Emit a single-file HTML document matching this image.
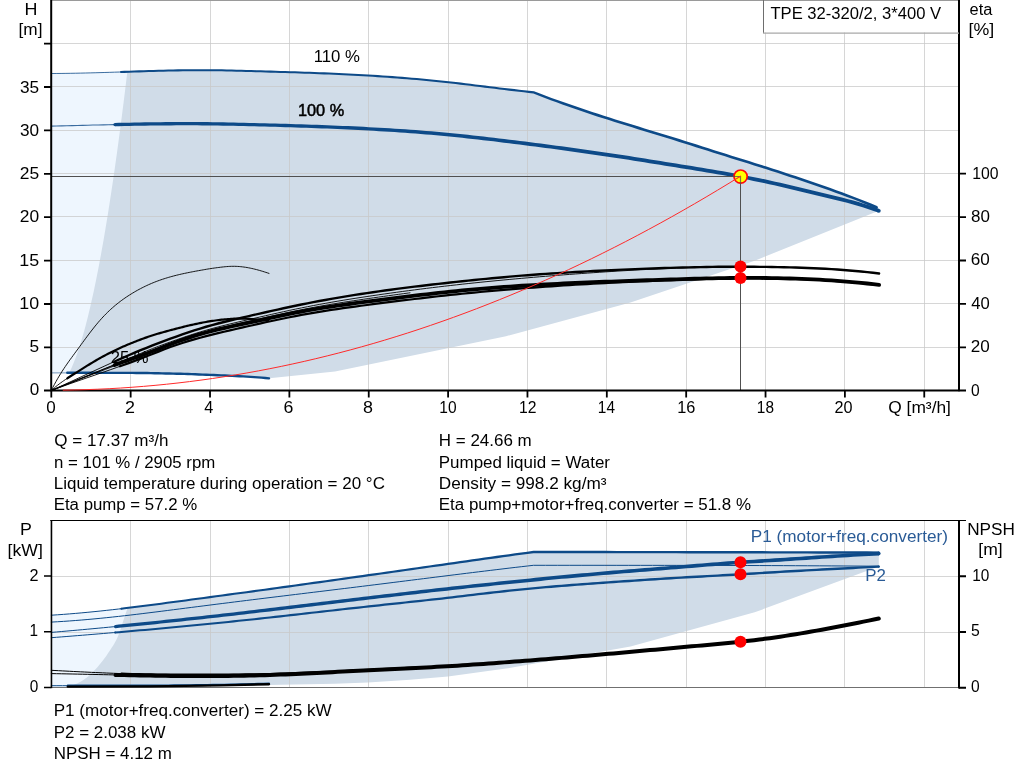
<!DOCTYPE html>
<html lang="en">
<head>
<meta charset="utf-8">
<title>TPE 32-320/2, 3*400 V</title>
<style>
html,body{margin:0;padding:0;background:#fff;}
body{width:1024px;height:781px;overflow:hidden;}
svg{display:block;}
.t{font-family:"Liberation Sans",sans-serif;font-size:16px;fill:#000;}
.m{text-anchor:middle;}
.e{text-anchor:end;}
</style>
</head>
<body>
<svg width="1024" height="781" viewBox="0 0 1024 781">
<rect width="1024" height="781" fill="#fff"/>
<g id="top-chart">
<path d="M51.3 73.5L51.3 73.5L56.17 73.48L61.05 73.44L65.92 73.38L70.79 73.31L75.66 73.22L80.54 73.12L85.41 73.01L90.28 72.89L95.15 72.76L100.03 72.62L104.9 72.48L109.77 72.33L114.65 72.17L119.52 72.02L124.39 71.86L129.26 71.7L134.14 71.54L139.01 71.39L143.88 71.23L148.75 71.09L153.63 70.95L158.5 70.81L160 70.77L160 373.32L51.3 372.8Z" fill="#eef6fe"/>
<path d="M127.34 71.76L129.26 71.7L134.14 71.54L139.01 71.39L143.88 71.23L148.75 71.09L153.63 70.95L158.5 70.81L163.37 70.69L168.25 70.58L173.12 70.47L177.99 70.38L182.86 70.31L187.74 70.25L192.61 70.2L197.48 70.18L202.35 70.17L207.23 70.18L212.1 70.22L216.97 70.27L221.85 70.35L226.72 70.44L231.59 70.55L236.46 70.66L241.34 70.79L246.21 70.92L251.08 71.06L255.95 71.2L260.83 71.34L265.7 71.48L270.57 71.62L275.45 71.76L280.32 71.9L285.19 72.05L290.06 72.2L294.94 72.35L299.81 72.51L304.68 72.67L309.55 72.84L314.43 73.01L319.3 73.19L324.17 73.38L329.05 73.57L333.92 73.78L338.79 73.99L343.66 74.22L348.54 74.45L353.41 74.69L358.28 74.95L363.15 75.22L368.03 75.5L372.9 75.8L377.77 76.11L382.65 76.43L387.52 76.76L392.39 77.12L397.26 77.48L402.14 77.86L407.01 78.26L411.88 78.67L416.75 79.09L421.63 79.53L426.5 79.99L431.37 80.46L436.25 80.95L441.12 81.46L445.99 81.98L450.86 82.52L455.74 83.07L460.61 83.64L465.48 84.22L470.35 84.81L475.23 85.41L480.1 86.01L484.97 86.61L489.85 87.21L494.72 87.81L499.59 88.41L504.46 89L509.34 89.59L514.21 90.16L519.08 90.72L523.95 91.26L528.83 91.79L533.7 92.3L539.51 94.59L545.32 96.83L551.13 99.02L556.94 101.17L562.75 103.27L568.56 105.33L574.37 107.35L580.18 109.34L585.99 111.29L591.8 113.22L597.61 115.12L603.42 116.99L609.23 118.84L615.04 120.67L620.85 122.49L626.66 124.29L632.47 126.09L638.28 127.87L644.09 129.65L649.9 131.43L655.71 133.2L661.52 134.98L667.33 136.77L673.14 138.56L678.95 140.37L684.76 142.19L690.57 144.02L696.38 145.87L702.19 147.72L708.01 149.58L713.82 151.42L719.63 153.26L725.44 155.09L731.25 156.91L737.06 158.72L742.87 160.54L748.68 162.36L754.49 164.18L760.3 166.01L766.11 167.85L771.92 169.71L777.73 171.58L783.54 173.48L789.35 175.39L795.16 177.32L800.97 179.28L806.78 181.25L812.59 183.24L818.4 185.24L824.21 187.27L830.02 189.32L835.83 191.39L841.64 193.51L847.45 195.66L853.26 197.87L859.07 200.13L864.88 202.45L870.69 204.84L876.5 207.3L878.8 210.8L754.7 260.7L630.5 302.5L506 336.2L335 371.5L269.3 378.2L269 378.4L265.31 378.02L261.62 377.66L257.93 377.34L254.24 377.08L250.55 376.84L246.86 376.62L243.17 376.41L239.48 376.22L235.79 376.03L232.1 375.85L228.41 375.68L224.72 375.52L221.03 375.36L217.34 375.21L213.65 375.05L209.96 374.9L206.27 374.74L202.58 374.59L198.89 374.44L195.2 374.29L191.51 374.16L187.82 374.03L184.13 373.91L180.44 373.81L176.75 373.72L173.06 373.63L169.37 373.54L165.68 373.45L161.99 373.36L158.31 373.28L154.62 373.21L150.93 373.14L147.24 373.07L143.55 373.02L139.86 372.97L136.17 372.94L132.48 372.91L128.79 372.9L125.1 372.89L121.41 372.88L117.72 372.87L114.03 372.86L110.34 372.85L106.65 372.84L102.96 372.83L99.27 372.83L95.58 372.82L91.89 372.82L88.2 372.81L84.51 372.81L80.82 372.81L77.13 372.8L73.44 372.8L69.75 372.8L69.22 372.8L71.64 367.7L73.8 362.6L75.77 357.49L77.59 352.39L79.3 347.29L80.9 342.19L82.43 337.08L83.88 331.98L85.27 326.88L86.61 321.78L87.89 316.67L89.14 311.57L90.34 306.47L91.51 301.37L92.64 296.26L93.75 291.16L94.83 286.06L95.88 280.96L96.9 275.86L97.91 270.75L98.89 265.65L99.85 260.55L100.8 255.45L101.72 250.34L102.63 245.24L103.53 240.14L104.4 235.04L105.27 229.93L106.12 224.83L106.96 219.73L107.78 214.63L108.6 209.52L109.4 204.42L110.19 199.32L110.97 194.22L111.74 189.12L112.5 184.01L113.25 178.91L114 173.81L114.73 168.71L115.45 163.6L116.17 158.5L116.88 153.4L117.58 148.3L118.28 143.19L118.96 138.09L119.65 132.99L120.32 127.89L120.99 122.78L121.65 117.68L122.3 112.58L122.95 107.48L123.59 102.38L124.23 97.27L124.86 92.17L125.49 87.07L126.11 81.97L126.73 76.86L127.34 71.76Z" fill="#d0dce8"/>
<path d="M130.5 0V390M210.5 0V390M289.5 0V390M368.5 0V390M448.5 0V390M527.5 0V390M606.5 0V390M686.5 0V390M765.5 0V390M844.5 0V390M924.5 0V390M52 347.5H959M52 303.5H959M52 260.5H959M52 216.5H959M52 173.5H959M52 130.5H959M52 86.5H959M52 43.5H959" stroke="#c8c8c8" stroke-opacity="0.75" stroke-width="1" fill="none"/>
<path d="M51 0.5H960" stroke="#9a9a9a" stroke-width="1" fill="none"/>
<text x="110.77" y="362.6" class="t" textLength="37.82" lengthAdjust="spacingAndGlyphs">25 %</text>
<path d="M51.3 372.8L54.99 372.8L58.68 372.8L62.37 372.8L66.06 372.8L67.3 372.8" fill="none" stroke="#0d4a88" stroke-width="1.2" stroke-linecap="round" stroke-linejoin="round" stroke-opacity="0.45"/>
<path d="M67.3 372.8L69.75 372.8L73.44 372.8L77.13 372.8L80.82 372.81L84.51 372.81L88.2 372.81L91.89 372.82L95.58 372.82L99.27 372.83L102.96 372.83L106.65 372.84L110.34 372.85L114.03 372.86L117.72 372.87L121.41 372.88L125.1 372.89L128.79 372.9L132.48 372.91L136.17 372.94L139.86 372.97L143.55 373.02L147.24 373.07L150.93 373.14L154.62 373.21L158.31 373.28L161.99 373.36L165.68 373.45L169.37 373.54L173.06 373.63L176.75 373.72L180.44 373.81L184.13 373.91L187.82 374.03L191.51 374.16L195.2 374.29L198.89 374.44L202.58 374.59L206.27 374.74L209.96 374.9L213.65 375.05L217.34 375.21L221.03 375.36L224.72 375.52L228.41 375.68L232.1 375.85L235.79 376.03L239.48 376.22L243.17 376.41L246.86 376.62L250.55 376.84L254.24 377.08L257.93 377.34L261.62 377.66L265.31 378.02L269 378.4" fill="none" stroke="#0d4a88" stroke-width="2.4" stroke-linecap="round" stroke-linejoin="round"/>
<path d="M51.3 73.5L56.17 73.48L61.05 73.44L65.92 73.38L70.79 73.31L75.66 73.22L80.54 73.12L85.41 73.01L90.28 72.89L95.15 72.76L100.03 72.62L104.9 72.48L109.77 72.33L114.65 72.17L119.52 72.02L121 71.97" fill="none" stroke="#0d4a88" stroke-width="1" stroke-linecap="round" stroke-linejoin="round" stroke-opacity="0.8"/>
<path d="M121.03 72.99L124.42 72.88L129.3 72.72L134.17 72.57L139.04 72.41L143.91 72.26L148.78 72.11L153.66 71.97L158.53 71.84L163.4 71.71L168.27 71.6L173.14 71.5L178.01 71.41L182.88 71.33L187.75 71.27L192.62 71.23L197.49 71.2L202.35 71.19L207.22 71.21L212.09 71.24L216.96 71.3L221.83 71.37L226.7 71.46L231.57 71.57L236.44 71.69L241.31 71.81L246.18 71.95L251.05 72.08L255.93 72.22L260.8 72.36L265.67 72.5L270.54 72.64L275.42 72.78L280.29 72.93L285.16 73.07L290.03 73.22L294.9 73.37L299.78 73.53L304.65 73.69L309.52 73.86L314.39 74.03L319.26 74.22L324.13 74.4L329 74.6L333.87 74.8L338.74 75.02L343.62 75.24L348.49 75.47L353.36 75.72L358.23 75.97L363.1 76.24L367.97 76.52L372.84 76.82L377.71 77.13L382.58 77.45L387.45 77.79L392.32 78.14L397.19 78.5L402.06 78.88L406.92 79.28L411.79 79.69L416.66 80.11L421.53 80.55L426.4 81.01L431.27 81.48L436.14 81.97L441.01 82.48L445.88 83L450.75 83.54L455.62 84.09L460.49 84.66L465.36 85.24L470.23 85.83L475.1 86.42L479.97 87.02L484.85 87.63L489.72 88.23L494.59 88.83L499.47 89.43L504.34 90.04L509.21 90.64L514.08 91.23L518.96 91.81L523.83 92.37L528.71 92.92L533.41 93.41L539.08 95.68L544.89 97.95L550.71 100.16L556.52 102.33L562.33 104.45L568.14 106.54L573.95 108.58L579.76 110.59L585.57 112.55L591.39 114.48L597.2 116.38L603.02 118.25L608.83 120.1L614.65 121.94L620.46 123.76L626.27 125.56L632.08 127.35L637.89 129.14L643.71 130.92L649.52 132.69L655.33 134.47L661.14 136.25L666.94 138.03L672.75 139.83L678.56 141.63L684.37 143.45L690.17 145.28L695.98 147.13L701.79 148.98L707.6 150.84L713.41 152.69L719.23 154.53L725.04 156.35L730.85 158.17L736.66 159.99L742.47 161.8L748.28 163.62L754.09 165.44L759.9 167.27L765.7 169.11L771.51 170.97L777.32 172.84L783.12 174.74L788.93 176.65L794.74 178.58L800.54 180.53L806.35 182.5L812.16 184.49L817.96 186.5L823.77 188.52L829.58 190.57L835.38 192.64L841.18 194.75L846.98 196.9L852.78 199.1L858.58 201.36L864.38 203.67L870.18 206.06L875.98 208.52L877.02 206.08L871.2 203.61L865.38 201.22L859.56 198.89L853.73 196.63L847.91 194.42L842.1 192.26L836.28 190.15L830.46 188.07L824.65 186.02L818.83 183.99L813.02 181.98L807.21 179.99L801.39 178.02L795.58 176.07L789.76 174.13L783.95 172.22L778.14 170.32L772.32 168.45L766.51 166.59L760.7 164.74L754.88 162.91L749.07 161.09L743.26 159.27L737.45 157.46L731.64 155.64L725.83 153.82L720.02 152L714.22 150.16L708.41 148.31L702.6 146.46L696.79 144.6L690.97 142.76L685.16 140.92L679.35 139.1L673.54 137.3L667.72 135.5L661.91 133.72L656.1 131.94L650.29 130.16L644.48 128.38L638.67 126.6L632.86 124.82L627.05 123.03L621.25 121.23L615.44 119.41L609.63 117.58L603.83 115.73L598.02 113.86L592.22 111.96L586.41 110.04L580.61 108.08L574.8 106.12L568.99 104.12L563.18 102.08L557.37 100L551.56 97.88L545.75 95.71L539.94 93.5L533.99 91.19L528.95 90.66L524.08 90.16L519.21 89.63L514.33 89.09L509.46 88.53L504.59 87.97L499.72 87.39L494.84 86.8L489.97 86.19L485.1 85.59L480.23 84.99L475.35 84.39L470.48 83.79L465.6 83.2L460.73 82.62L455.85 82.06L450.98 81.5L446.1 80.96L441.23 80.44L436.35 79.93L431.47 79.44L426.6 78.97L421.72 78.51L416.85 78.07L411.97 77.64L407.09 77.23L402.22 76.84L397.34 76.46L392.47 76.09L387.59 75.74L382.71 75.41L377.84 75.08L372.96 74.77L368.09 74.48L363.21 74.2L358.34 73.93L353.46 73.67L348.59 73.43L343.71 73.19L338.84 72.97L333.96 72.75L329.09 72.55L324.21 72.35L319.34 72.17L314.46 71.99L309.59 71.81L304.72 71.64L299.84 71.48L294.97 71.33L290.1 71.17L285.22 71.02L280.35 70.88L275.48 70.73L270.6 70.59L265.73 70.45L260.86 70.31L255.98 70.17L251.11 70.03L246.24 69.9L241.36 69.76L236.49 69.64L231.61 69.52L226.74 69.42L221.86 69.32L216.99 69.25L212.11 69.19L207.23 69.16L202.36 69.14L197.48 69.15L192.6 69.18L187.73 69.22L182.85 69.28L177.97 69.36L173.1 69.45L168.22 69.55L163.35 69.67L158.47 69.79L153.6 69.92L148.72 70.06L143.85 70.21L138.98 70.36L134.1 70.52L129.23 70.67L124.36 70.83L120.97 70.94Z" fill="#0d4a88"/><circle cx="121" cy="71.97" r="1.02" fill="#0d4a88"/><circle cx="876.5" cy="207.3" r="1.32" fill="#0d4a88"/>
<path d="M51.3 126.1L56.5 125.97L61.71 125.84L66.91 125.72L72.12 125.59L77.32 125.46L82.53 125.33L87.73 125.2L92.94 125.07L98.14 124.95L103.34 124.83L108.55 124.71L113.75 124.59L114.5 124.58" fill="none" stroke="#0d4a88" stroke-width="1.1" stroke-linecap="round" stroke-linejoin="round" stroke-opacity="0.8"/>
<path d="M115.03 126.22L118.99 126.13L124.19 126.03L129.4 125.93L134.6 125.83L139.8 125.75L145 125.67L150.21 125.59L155.41 125.53L160.61 125.47L165.81 125.42L171.01 125.38L176.21 125.36L181.41 125.34L186.61 125.33L191.82 125.33L197.02 125.35L202.22 125.38L207.42 125.42L212.62 125.48L217.82 125.55L223.02 125.63L228.22 125.72L233.42 125.83L238.62 125.94L243.82 126.05L249.03 126.18L254.23 126.31L259.43 126.44L264.64 126.57L269.84 126.71L275.04 126.85L280.25 127L285.45 127.15L290.65 127.31L295.85 127.47L301.06 127.64L306.26 127.82L311.46 128L316.66 128.19L321.87 128.39L327.07 128.6L332.27 128.81L337.47 129.03L342.67 129.26L347.87 129.5L353.07 129.75L358.28 130L363.48 130.27L368.68 130.55L373.88 130.83L379.08 131.13L384.28 131.44L389.48 131.76L394.68 132.1L399.88 132.45L405.08 132.81L410.28 133.18L415.48 133.57L420.68 133.98L425.87 134.4L431.07 134.84L436.27 135.29L441.47 135.76L446.67 136.25L451.86 136.76L457.06 137.29L462.26 137.83L467.46 138.39L472.66 138.96L477.86 139.54L483.06 140.14L488.26 140.75L493.46 141.37L498.66 142L503.86 142.63L509.06 143.28L514.27 143.92L519.47 144.58L524.67 145.24L529.87 145.9L535.07 146.57L540.28 147.25L545.48 147.93L550.68 148.62L555.88 149.32L561.08 150.02L566.28 150.73L571.48 151.45L576.68 152.18L581.89 152.91L587.09 153.65L592.29 154.4L597.49 155.16L602.69 155.93L607.89 156.7L613.09 157.48L618.29 158.27L623.5 159.06L628.7 159.87L633.9 160.68L639.1 161.5L644.3 162.32L649.51 163.14L654.71 163.98L659.91 164.81L665.12 165.65L670.32 166.49L675.52 167.33L680.73 168.17L685.93 169.02L691.14 169.86L696.34 170.71L701.54 171.56L706.74 172.42L711.94 173.29L717.14 174.17L722.34 175.06L727.54 175.98L732.74 176.91L737.93 177.87L743.13 178.85L748.32 179.86L753.52 180.9L758.71 181.97L763.91 183.06L769.1 184.19L774.3 185.34L779.49 186.52L784.69 187.72L789.89 188.94L795.09 190.18L800.29 191.42L805.49 192.67L810.7 193.92L815.9 195.17L821.11 196.42L826.31 197.66L831.51 198.9L836.71 200.17L841.9 201.47L847.09 202.81L852.27 204.22L857.45 205.69L862.62 207.26L867.79 208.91L872.96 210.68L878.15 212.58L879.45 209.02L874.23 207.1L868.99 205.31L863.75 203.63L858.52 202.05L853.29 200.56L848.06 199.14L842.84 197.79L837.62 196.48L832.41 195.21L827.2 193.96L821.99 192.72L816.79 191.48L811.59 190.23L806.38 188.98L801.18 187.73L795.97 186.48L790.76 185.24L785.55 184.02L780.34 182.82L775.13 181.63L769.91 180.47L764.7 179.34L759.49 178.24L754.27 177.18L749.06 176.13L743.84 175.12L738.63 174.13L733.42 173.17L728.21 172.24L722.99 171.32L717.78 170.42L712.57 169.54L707.37 168.67L702.16 167.81L696.95 166.96L691.75 166.11L686.54 165.27L681.34 164.42L676.13 163.58L670.93 162.74L665.72 161.9L660.52 161.06L655.31 160.22L650.11 159.39L644.9 158.56L639.69 157.74L634.49 156.92L629.28 156.11L624.07 155.31L618.87 154.51L613.66 153.72L608.45 152.94L603.24 152.17L598.04 151.41L592.83 150.65L587.62 149.91L582.41 149.18L577.2 148.45L572 147.73L566.79 147.02L561.58 146.32L556.37 145.63L551.17 144.94L545.96 144.26L540.75 143.58L535.55 142.91L530.34 142.25L525.13 141.59L519.92 140.94L514.72 140.29L509.51 139.65L504.3 139.02L499.1 138.39L493.89 137.77L488.68 137.16L483.47 136.56L478.26 135.97L473.05 135.39L467.84 134.83L462.63 134.28L457.42 133.74L452.21 133.22L447 132.72L441.79 132.24L436.58 131.78L431.37 131.33L426.16 130.9L420.95 130.49L415.74 130.09L410.53 129.71L405.32 129.34L400.11 128.99L394.9 128.65L389.69 128.32L384.48 128.01L379.28 127.71L374.07 127.42L368.86 127.14L363.65 126.87L358.44 126.61L353.24 126.36L348.03 126.12L342.82 125.89L337.61 125.67L332.41 125.46L327.2 125.25L321.99 125.06L316.79 124.87L311.58 124.68L306.37 124.51L301.17 124.34L295.96 124.17L290.75 124.01L285.55 123.85L280.34 123.7L275.14 123.56L269.93 123.41L264.72 123.27L259.52 123.14L254.31 123.01L249.11 122.88L243.9 122.76L238.69 122.64L233.49 122.53L228.28 122.42L223.07 122.33L217.86 122.25L212.66 122.18L207.45 122.12L202.24 122.08L197.03 122.05L191.82 122.03L186.61 122.03L181.41 122.04L176.2 122.06L170.99 122.08L165.78 122.12L160.58 122.17L155.37 122.23L150.16 122.29L144.95 122.37L139.75 122.45L134.54 122.54L129.34 122.63L124.13 122.73L118.92 122.83L114.97 122.92Z" fill="#0d4a88"/><circle cx="115" cy="124.57" r="1.65" fill="#0d4a88"/><circle cx="878.8" cy="210.8" r="1.9" fill="#0d4a88"/>
<path d="M52 176.5H740.5V390" stroke="#505050" stroke-width="1" fill="none"/>
<path d="M51.3 390.5L52.87 387.38L54.43 384.4L56 381.53L57.56 378.78L59.13 376.12L60.7 373.56L62.26 371.09L63.83 368.69L65.4 366.36L66.96 364.08L68.53 361.85L70.09 359.66L71.66 357.5L73.23 355.36L74.79 353.23L76.36 351.1L77.93 348.97L79.49 346.83L81.06 344.68L82.62 342.55L84.19 340.41L85.76 338.29L87.32 336.19L88.89 334.1L90.45 332.05L92.02 330.02L93.59 328.02L95.15 326.06L96.72 324.15L98.29 322.28L99.85 320.47L101.42 318.71L102.98 317.01L104.55 315.36L106.12 313.76L107.68 312.21L109.25 310.71L110.82 309.26L112.38 307.85L113.95 306.49L115.51 305.17L117.08 303.9L118.65 302.66L120.21 301.46L121.78 300.29L123.34 299.16L124.91 298.06L126.48 296.99L128.04 295.96L129.61 294.95L131.18 293.96L132.74 293.01L134.31 292.08L135.87 291.17L137.44 290.29L139.01 289.43L140.57 288.6L142.14 287.79L143.71 287L145.27 286.24L146.84 285.5L148.4 284.78L149.97 284.09L151.54 283.41L153.1 282.76L154.67 282.13L156.23 281.52L157.8 280.93L159.37 280.36L160.93 279.81L162.5 279.28L164.07 278.77L165.63 278.27L167.2 277.79L168.76 277.32L170.33 276.87L171.9 276.44L173.46 276.02L175.03 275.61L176.59 275.22L178.16 274.83L179.73 274.46L181.29 274.1L182.86 273.75L184.43 273.41L185.99 273.08L187.56 272.76L189.12 272.44L190.69 272.13L192.26 271.83L193.82 271.53L195.39 271.24L196.96 270.95L198.52 270.67L200.09 270.38L201.65 270.11L203.22 269.83L204.79 269.56L206.35 269.29L207.92 269.03L209.48 268.78L211.05 268.54L212.62 268.3L214.18 268.07L215.75 267.85L217.32 267.64L218.88 267.44L220.45 267.25L222.01 267.06L223.58 266.89L225.15 266.73L226.71 266.59L228.28 266.47L229.85 266.38L231.41 266.32L232.98 266.3L234.54 266.31L236.11 266.35L237.68 266.43L239.24 266.53L240.81 266.68L242.37 266.85L243.94 267.05L245.51 267.28L247.07 267.53L248.64 267.82L250.21 268.13L251.77 268.46L253.34 268.81L254.9 269.19L256.47 269.59L258.04 270.01L259.6 270.45L261.17 270.9L262.74 271.37L264.3 271.86L265.87 272.36L267.43 272.87L269 273.4" fill="none" stroke="#000" stroke-width="0.9" stroke-linecap="round" stroke-linejoin="round"/>
<path d="M51.3 390.5L52.86 389.11L54.43 387.77L55.99 386.48L57.55 385.24L59.11 384.04L60.68 382.88L62.24 381.75L63.8 380.66L65.36 379.59L66.93 378.55L68.3 377.65" fill="none" stroke="#000" stroke-width="0.9" stroke-linecap="round" stroke-linejoin="round"/>
<path d="M67.3 378.3L68.49 377.52L70.05 376.51L71.61 375.52L73.18 374.53L74.74 373.54L76.3 372.56L77.86 371.57L79.43 370.58L80.99 369.6L82.55 368.62L84.11 367.63L85.68 366.66L87.24 365.69L88.8 364.72L90.36 363.76L91.93 362.82L93.49 361.88L95.05 360.95L96.62 360.04L98.18 359.13L99.74 358.25L101.3 357.37L102.87 356.52L104.43 355.68L105.99 354.85L107.55 354.04L109.12 353.24L110.68 352.45L112.24 351.68L113.8 350.92L115.37 350.17L116.93 349.44L118.49 348.72L120.05 348L121.62 347.3L123.18 346.61L124.74 345.93L126.3 345.26L127.87 344.6L129.43 343.94L130.99 343.3L132.55 342.66L134.12 342.03L135.68 341.41L137.24 340.8L138.81 340.2L140.37 339.61L141.93 339.03L143.49 338.46L145.06 337.9L146.62 337.35L148.18 336.81L149.74 336.29L151.31 335.77L152.87 335.27L154.43 334.77L155.99 334.29L157.56 333.82L159.12 333.35L160.68 332.9L162.24 332.45L163.81 332.01L165.37 331.57L166.93 331.14L168.49 330.72L170.06 330.3L171.62 329.89L173.18 329.47L174.74 329.07L176.31 328.66L177.87 328.26L179.43 327.86L180.99 327.46L182.56 327.07L184.12 326.68L185.68 326.3L187.25 325.92L188.81 325.55L190.37 325.19L191.93 324.83L193.5 324.48L195.06 324.13L196.62 323.8L198.18 323.47L199.75 323.15L201.31 322.84L202.87 322.54L204.43 322.25L206 321.97L207.56 321.7L209.12 321.44L210.68 321.19L212.25 320.95L213.81 320.72L215.37 320.49L216.93 320.28L218.5 320.08L220.06 319.89L221.62 319.71L223.18 319.54L224.75 319.39L226.31 319.24L227.87 319.11L229.44 318.99L231 318.89L232.56 318.8L234.12 318.72L235.69 318.66L237.25 318.62L238.81 318.6L240.37 318.59L241.94 318.6L243.5 318.63L245.06 318.67L246.62 318.73L248.19 318.8L249.75 318.89L251.31 319L252.87 319.12L254.44 319.25L256 319.39L257.56 319.55L259.12 319.73L260.69 319.91L262.25 320.11L263.81 320.31L265.37 320.53L266.94 320.76L268.5 321" fill="none" stroke="#000" stroke-width="2.2" stroke-linecap="round" stroke-linejoin="round"/>
<path d="M51.3 390.5L57.26 387.96L63.21 385.46L69.17 383.01L75.12 380.58L81.08 378.18L87.03 375.78L92.99 373.39L98.94 370.99L104.9 368.57L110.85 366.13L116.81 363.65L122.76 361.12L128.72 358.56L134.68 356L140.63 353.46L146.59 350.98L152.54 348.59L158.5 346.3L164.45 344.08L170.41 341.93L176.36 339.82L182.32 337.75L188.27 335.74L194.23 333.8L200.18 331.94L206.14 330.19L212.1 328.53L218.05 326.95L224.01 325.44L229.96 323.98L235.92 322.56L241.87 321.17L247.83 319.8L253.78 318.43L259.74 317.06L265.69 315.7L271.65 314.34L277.61 313.01L283.56 311.69L289.52 310.4L295.47 309.14L301.43 307.91L307.38 306.72L313.34 305.56L319.29 304.44L325.25 303.36L331.2 302.3L337.16 301.27L343.11 300.28L349.07 299.3L355.03 298.35L360.98 297.43L366.94 296.52L372.89 295.64L378.85 294.77L384.8 293.91L390.76 293.08L396.71 292.25L402.67 291.45L408.62 290.66L414.58 289.88L420.53 289.12L426.49 288.37L432.45 287.64L438.4 286.92L444.36 286.22L450.31 285.53L456.27 284.86L462.22 284.2L468.18 283.56L474.13 282.93L480.09 282.31L486.04 281.7L492 281.11L497.95 280.53L503.91 279.96L509.87 279.4L515.82 278.86L521.78 278.32L527.73 277.8L533.69 277.28L539.64 276.78L545.6 276.29L551.55 275.8L557.51 275.33L563.46 274.87L569.42 274.41L575.37 273.97L581.33 273.54L587.29 273.11L593.24 272.7L599.2 272.3L605.15 271.9L611.11 271.52L617.06 271.14L623.02 270.78L628.97 270.43L634.93 270.09L640.88 269.76L646.84 269.45L652.79 269.15L658.75 268.87L664.71 268.61L670.66 268.36L676.62 268.13L682.57 267.92L688.53 267.73L694.48 267.56L700.44 267.41L706.39 267.28L712.35 267.17L718.3 267.08L724.26 267.01L730.22 266.95L736.17 266.92L742.13 266.9L748.08 266.9L754.04 266.91L759.99 266.95L765.95 267L771.9 267.08L777.86 267.17L783.81 267.29L789.77 267.44L795.72 267.61L801.68 267.8L807.64 268.03L813.59 268.29L819.55 268.58L825.5 268.9L831.46 269.26L837.41 269.65L843.37 270.09L849.32 270.56L855.28 271.08L861.23 271.64L867.19 272.25L873.14 272.9L879.1 273.6" fill="none" stroke="#000" stroke-width="0.9" stroke-linecap="round" stroke-linejoin="round"/>
<path d="M51.3 390.5L56.26 388.46L61.22 386.45L66.17 384.48L71.13 382.54L76.09 380.62L81.05 378.71L86.01 376.82L90.97 374.92L95.92 373.03L100.88 371.13L105.84 369.21L110.8 367.27L115.76 365.31L120.72 363.31L125.67 361.28L130.63 359.22L135.59 357.16L140.55 355.09L145.51 353.04L150.47 351.01L155.42 349.02L160.38 347.07L165.34 345.17L170.3 343.31L175.26 341.51L180.22 339.76L185.17 338.07L190.13 336.44L195.09 334.88L200.05 333.39L205.01 331.96L209.96 330.6L214.92 329.29L219.88 328.04L224.84 326.82L229.8 325.63L234.76 324.48L239.71 323.34L244.67 322.21L249.63 321.08L254.59 319.96L259.55 318.83L264.51 317.7L269.46 316.58L274.42 315.46L279.38 314.36L284.34 313.28L289.3 312.21L294.26 311.17L299.21 310.16L304.17 309.17L309.13 308.22L314.09 307.29L319.05 306.39L324.01 305.52L328.96 304.67L333.92 303.84L338.88 303.03L343.84 302.24L348.8 301.47L353.75 300.71L358.71 299.97L363.67 299.24L368.63 298.52L373.59 297.81L378.55 297.1L383.5 296.41L388.46 295.72L393.42 295.04L398.38 294.36L403.34 293.69L408.3 293.03L410 292.8" fill="none" stroke="#000" stroke-width="0.9" stroke-linecap="round" stroke-linejoin="round"/>
<path d="M51.3 390.5L57.26 388.3L63.21 386.14L69.17 384.02L75.12 381.93L81.08 379.86L87.03 377.8L92.99 375.75L98.94 373.7L104.9 371.63L110.85 369.55L116.81 367.44L121 365.94" fill="none" stroke="#000" stroke-width="0.9" stroke-linecap="round" stroke-linejoin="round"/>
<path d="M120 366.3L122.76 365.3L128.72 363.12L134.68 360.9L140.63 358.64L146.59 356.34L152.54 354L158.5 351.64L164.45 349.31L170.41 347.05L176.36 344.93L182.32 342.95L188.27 341.12L194.23 339.39L200.18 337.75L206.14 336.17L212.1 334.66L218.05 333.18L224.01 331.75L229.96 330.35L235.92 328.98L241.87 327.63L247.83 326.29L253.78 324.95L259.74 323.62L265.69 322.3L271.65 321L277.61 319.71L283.56 318.46L289.52 317.24L295.47 316.07L301.43 314.93L307.38 313.85L313.34 312.81L319.29 311.82L325.25 310.86L331.2 309.94L337.16 309.05L343.11 308.19L349.07 307.36L355.03 306.55L360.98 305.75L366.94 304.97L372.89 304.21L378.85 303.45L384.8 302.69L390.76 301.94L396.71 301.2L402.67 300.46L408.62 299.73L414.58 299.01L420.53 298.3L426.49 297.61L432.45 296.92L438.4 296.25L444.36 295.59L450.31 294.95L456.27 294.33L462.22 293.72L468.18 293.13L474.13 292.55L480.09 291.99L486.04 291.45L492 290.91L497.95 290.39L503.91 289.89L509.87 289.4L515.82 288.92L521.78 288.45L527.73 288L533.69 287.55L539.64 287.12L545.6 286.7L551.55 286.29L557.51 285.9L563.46 285.51L569.42 285.13L575.37 284.76L581.33 284.41L587.29 284.06L593.24 283.73L599.2 283.4L605.15 283.08L611.11 282.77L617.06 282.47L623.02 282.18L628.97 281.9L634.93 281.63L640.88 281.36L646.84 281.11L652.79 280.86L658.75 280.62L664.71 280.39L670.66 280.16L676.62 279.94L682.57 279.73L688.53 279.53L694.48 279.33L700.44 279.14L706.39 278.97L712.35 278.81L718.3 278.66L724.26 278.54L730.22 278.43L736.17 278.35L742.13 278.29L748.08 278.25L754.04 278.24L759.99 278.26L765.95 278.3L771.9 278.37L777.86 278.46L783.81 278.58L789.77 278.73L795.72 278.91L801.68 279.11L807.64 279.35L813.59 279.62L819.55 279.92L825.5 280.26L831.46 280.63L837.41 281.04L843.37 281.49L849.32 281.97L855.28 282.49L861.23 283.06L867.19 283.66L873.14 284.31L879.1 285" fill="none" stroke="#000" stroke-width="2.2" stroke-linecap="round" stroke-linejoin="round"/>
<path d="M51.3 390.5L57.26 387.82L63.21 385.12L69.17 382.39L75.12 379.65L81.08 376.89L87.03 374.13L92.99 371.38L98.94 368.63L104.9 365.9L110.85 363.19L115.6 361.05" fill="none" stroke="#000" stroke-width="0.9" stroke-linecap="round" stroke-linejoin="round"/>
<path d="M114.6 361.5L116.81 360.51L122.76 357.87L128.72 355.26L134.68 352.71L140.63 350.21L146.59 347.77L152.54 345.4L158.5 343.09L164.45 340.85L170.41 338.66L176.36 336.51L182.32 334.42L188.27 332.38L194.23 330.42L200.18 328.54L206.14 326.77L212.1 325.09L218.05 323.5L224.01 321.97L229.96 320.5L235.92 319.07L241.87 317.67L247.83 316.3L253.78 314.93L259.74 313.57L265.69 312.22L271.65 310.88L277.61 309.56L283.56 308.26L289.52 306.98L295.47 305.73L301.43 304.51L307.38 303.32L313.34 302.17L319.29 301.05L325.25 299.95L331.2 298.89L337.16 297.86L343.11 296.85L349.07 295.87L355.03 294.92L360.98 294L366.94 293.09L372.89 292.22L378.85 291.36L384.8 290.53L390.76 289.72L396.71 288.93L402.67 288.16L408.62 287.4L414.58 286.67L420.53 285.95L426.49 285.24L432.45 284.55L438.4 283.87L444.36 283.2L450.31 282.55L456.27 281.9L462.22 281.27L468.18 280.64L474.13 280.03L480.09 279.43L486.04 278.85L492 278.28L497.95 277.73L503.91 277.19L509.87 276.66L515.82 276.16L521.78 275.67L527.73 275.2L533.69 274.75L539.64 274.31L545.6 273.89L551.55 273.49L557.51 273.11L563.46 272.74L569.42 272.38L575.37 272.03L581.33 271.7L587.29 271.38L593.24 271.07L599.2 270.77L605.15 270.47L611.11 270.19L617.06 269.91L623.02 269.64L628.97 269.38L634.93 269.13L640.88 268.89L646.84 268.66L652.79 268.44L658.75 268.23L664.71 268.03L670.66 267.84L676.62 267.66L682.57 267.5L688.53 267.35L694.48 267.21L700.44 267.09L706.39 266.98L712.35 266.89L718.3 266.81L724.26 266.76L730.22 266.72L736.17 266.7L742.13 266.7L748.08 266.73L754.04 266.77L759.99 266.83L765.95 266.9L771.9 266.99L777.86 267.1L783.81 267.23L789.77 267.38L795.72 267.55L801.68 267.75L807.64 267.97L813.59 268.22L819.55 268.5L825.5 268.82L831.46 269.17L837.41 269.56L843.37 269.99L849.32 270.46L855.28 270.97L861.23 271.53L867.19 272.14L873.14 272.79L879.1 273.5" fill="none" stroke="#000" stroke-width="2.4" stroke-linecap="round" stroke-linejoin="round"/>
<path d="M51.3 390.5L57.26 388.26L63.21 385.93L69.17 383.53L75.12 381.08L81.08 378.6L87.03 376.11L92.99 373.63L98.94 371.18L104.9 368.77L110.85 366.43L115.6 364.63" fill="none" stroke="#000" stroke-width="0.9" stroke-linecap="round" stroke-linejoin="round"/>
<path d="M114.6 365.01L116.81 364.17L122.76 362L128.72 359.87L134.68 357.76L140.63 355.64L146.59 353.48L152.54 351.23L158.5 348.91L164.45 346.56L170.41 344.24L176.36 341.99L182.32 339.86L188.27 337.83L194.23 335.93L200.18 334.15L206.14 332.48L212.1 330.93L218.05 329.46L224.01 328.07L229.96 326.73L235.92 325.43L241.87 324.15L247.83 322.87L253.78 321.58L259.74 320.28L265.69 318.97L271.65 317.66L277.61 316.38L283.56 315.11L289.52 313.87L295.47 312.68L301.43 311.53L307.38 310.44L313.34 309.4L319.29 308.41L325.25 307.46L331.2 306.55L337.16 305.67L343.11 304.82L349.07 304L355.03 303.21L360.98 302.42L366.94 301.66L372.89 300.9L378.85 300.15L384.8 299.39L390.76 298.64L396.71 297.9L402.67 297.16L408.62 296.42L414.58 295.7L420.53 294.98L426.49 294.28L432.45 293.6L438.4 292.93L444.36 292.29L450.31 291.66L456.27 291.06L462.22 290.47L468.18 289.91L474.13 289.37L480.09 288.86L486.04 288.36L492 287.88L497.95 287.42L503.91 286.98L509.87 286.56L515.82 286.15L521.78 285.77L527.73 285.4L533.69 285.05L539.64 284.71L545.6 284.39L551.55 284.08L557.51 283.78L563.46 283.5L569.42 283.23L575.37 282.96L581.33 282.71L587.29 282.46L593.24 282.22L599.2 281.99L605.15 281.76L611.11 281.53L617.06 281.31L623.02 281.09L628.97 280.88L634.93 280.67L640.88 280.46L646.84 280.26L652.79 280.06L658.75 279.86L664.71 279.67L670.66 279.48L676.62 279.29L682.57 279.11L688.53 278.94L694.48 278.77L700.44 278.6L706.39 278.45L712.35 278.31L718.3 278.18L724.26 278.08L730.22 277.99L736.17 277.93L742.13 277.89L748.08 277.88L754.04 277.9L759.99 277.94L765.95 278L771.9 278.09L777.86 278.19L783.81 278.33L789.77 278.48L795.72 278.67L801.68 278.88L807.64 279.12L813.59 279.39L819.55 279.7L825.5 280.04L831.46 280.42L837.41 280.83L843.37 281.29L849.32 281.78L855.28 282.31L861.23 282.89L867.19 283.51L873.14 284.18L879.1 284.9" fill="none" stroke="#000" stroke-width="3.8" stroke-linecap="round" stroke-linejoin="round"/>
<circle cx="740.5" cy="266.5" r="6" fill="#f00"/>
<circle cx="740.5" cy="278.1" r="6" fill="#f00"/>
<circle cx="740.6" cy="176.6" r="6.6" fill="#ffff00" stroke="#ff0a0a" stroke-width="1.7"/>
<path d="M733 176.5H740.5V184" stroke="#505050" stroke-width="1.2" fill="none" stroke-opacity="0.75"/>
<path d="M733.5 180.2L740.5 176.6" stroke="#ff3030" stroke-width="1" fill="none" stroke-opacity="0.7"/>
<path d="M51.2 0V391.3" stroke="#000" stroke-width="2" fill="none"/>
<path d="M959 0V391.3" stroke="#000" stroke-width="2" fill="none"/>
<path d="M44 390.5H966" stroke="#000" stroke-width="1.8" fill="none"/>
<path d="M44 347.4H51M44 304H51M44 260.6H51M44 217.2H51M44 173.8H51M44 130.4H51M44 87H51M44 43.6H51M959 347.3H966M959 303.9H966M959 260.5H966M959 217.1H966M959 173.7H966M51.3 390V397.5M130.66 390V397.5M210.02 390V397.5M289.38 390V397.5M368.74 390V397.5M448.1 390V397.5M527.46 390V397.5M606.82 390V397.5M686.18 390V397.5M765.54 390V397.5M844.9 390V397.5M924.26 390V397.5" stroke="#000" stroke-width="1.8" fill="none"/>
<path d="M63.2 390.14L74.68 389.95L86.16 389.65L97.64 389.23L109.13 388.69L120.61 388.04L132.09 387.26L143.57 386.36L155.05 385.35L166.53 384.22L178.01 382.97L189.49 381.6L200.97 380.11L212.45 378.5L223.93 376.77L235.41 374.93L246.89 372.96L258.37 370.88L269.85 368.68L281.33 366.36L292.81 363.92L304.29 361.36L315.77 358.68L327.25 355.89L338.73 352.97L350.21 349.94L361.69 346.79L373.17 343.52L384.65 340.13L396.13 336.62L407.61 333L419.09 329.25L430.57 325.39L442.05 321.4L453.53 317.3L465.01 313.08L476.49 308.74L487.98 304.28L499.46 299.7L510.94 295.01L522.42 290.19L533.9 285.26L545.38 280.21L556.86 275.04L568.34 269.75L579.82 264.34L591.3 258.81L602.78 253.17L614.26 247.4L625.74 241.52L637.22 235.52L648.7 229.4L660.18 223.16L671.66 216.8L683.14 210.32L694.62 203.72L706.1 197.01L717.58 190.17L729.06 183.22L740.54 176.15" fill="none" stroke="#ff2a2a" stroke-width="1" stroke-linecap="round" stroke-linejoin="round"/>
<rect x="764" y="1" width="194" height="31.5" fill="#fff"/>
<path d="M763.5 0V33" stroke="#6e6e6e" stroke-width="1" fill="none"/>
<path d="M763 33.1H959" stroke="#a8a8a8" stroke-width="1.3" fill="none"/>
<text x="770.44" y="19.1" class="t" textLength="170.62" lengthAdjust="spacingAndGlyphs">TPE 32-320/2, 3*400 V</text>
<text x="24.43" y="14.8" class="t" textLength="12.94" lengthAdjust="spacingAndGlyphs">H</text>
<text x="18.56" y="35.3" class="t" textLength="23.89" lengthAdjust="spacingAndGlyphs">[m]</text>
<text x="969.63" y="15.2" class="t" textLength="22.76" lengthAdjust="spacingAndGlyphs">eta</text>
<text x="968.52" y="35.3" class="t" textLength="25.67" lengthAdjust="spacingAndGlyphs">[%]</text>
<text x="29.66" y="395.4" class="t" textLength="9.48" lengthAdjust="spacingAndGlyphs">0</text>
<text x="29.6" y="352.13" class="t" textLength="9.6" lengthAdjust="spacingAndGlyphs">5</text>
<text x="19.37" y="308.86" class="t" textLength="19.8" lengthAdjust="spacingAndGlyphs">10</text>
<text x="19.36" y="265.59" class="t" textLength="19.86" lengthAdjust="spacingAndGlyphs">15</text>
<text x="19.83" y="222.31" class="t" textLength="19.32" lengthAdjust="spacingAndGlyphs">20</text>
<text x="19.83" y="179.04" class="t" textLength="19.38" lengthAdjust="spacingAndGlyphs">25</text>
<text x="20.06" y="135.77" class="t" textLength="19.08" lengthAdjust="spacingAndGlyphs">30</text>
<text x="20.05" y="92.5" class="t" textLength="19.14" lengthAdjust="spacingAndGlyphs">35</text>
<text x="971.12" y="395.6" class="t" textLength="8.67" lengthAdjust="spacingAndGlyphs">0</text>
<text x="970.85" y="352.2" class="t" textLength="18.99" lengthAdjust="spacingAndGlyphs">20</text>
<text x="971.34" y="308.8" class="t" textLength="18.48" lengthAdjust="spacingAndGlyphs">40</text>
<text x="970.85" y="265.4" class="t" textLength="18.99" lengthAdjust="spacingAndGlyphs">60</text>
<text x="970.96" y="222" class="t" textLength="18.88" lengthAdjust="spacingAndGlyphs">80</text>
<text x="972.22" y="178.6" class="t" textLength="26.27" lengthAdjust="spacingAndGlyphs">100</text>
<text x="46.36" y="413.2" class="t" textLength="9.48" lengthAdjust="spacingAndGlyphs">0</text>
<text x="125.12" y="413.2" class="t" textLength="9.97" lengthAdjust="spacingAndGlyphs">2</text>
<text x="204.35" y="413.2" class="t" textLength="9.01" lengthAdjust="spacingAndGlyphs">4</text>
<text x="283.51" y="413.2" class="t" textLength="9.86" lengthAdjust="spacingAndGlyphs">6</text>
<text x="363.12" y="413.2" class="t" textLength="9.97" lengthAdjust="spacingAndGlyphs">8</text>
<text x="439.34" y="413.2" class="t" textLength="17.24" lengthAdjust="spacingAndGlyphs">10</text>
<text x="518.92" y="413.2" class="t" textLength="17.46" lengthAdjust="spacingAndGlyphs">12</text>
<text x="597.85" y="413.2" class="t" textLength="17.09" lengthAdjust="spacingAndGlyphs">14</text>
<text x="677.28" y="413.2" class="t" textLength="18.13" lengthAdjust="spacingAndGlyphs">16</text>
<text x="756.87" y="413.2" class="t" textLength="17.09" lengthAdjust="spacingAndGlyphs">18</text>
<text x="834.59" y="413.2" class="t" textLength="18.01" lengthAdjust="spacingAndGlyphs">20</text>
<text x="888.29" y="413.2" class="t" textLength="62.64" lengthAdjust="spacingAndGlyphs">Q [m³/h]</text>
<text x="313.74" y="62.4" class="t" textLength="46.26" lengthAdjust="spacingAndGlyphs">110 %</text>
<text x="297.98" y="116" class="t" textLength="46.2" lengthAdjust="spacingAndGlyphs" stroke="#000" stroke-width="0.5">100 %</text>
<text x="54.3" y="446.3" class="t" textLength="114.13" lengthAdjust="spacingAndGlyphs">Q = 17.37 m³/h</text>
<text x="54" y="467.65" class="t" textLength="161.29" lengthAdjust="spacingAndGlyphs">n = 101 % / 2905 rpm</text>
<text x="53.72" y="489" class="t" textLength="331.2" lengthAdjust="spacingAndGlyphs">Liquid temperature during operation = 20 °C</text>
<text x="53.73" y="510.35" class="t" textLength="143.48" lengthAdjust="spacingAndGlyphs">Eta pump = 57.2 %</text>
<text x="438.82" y="446.3" class="t" textLength="92.89" lengthAdjust="spacingAndGlyphs">H = 24.66 m</text>
<text x="438.82" y="467.65" class="t" textLength="171.15" lengthAdjust="spacingAndGlyphs">Pumped liquid = Water</text>
<text x="438.8" y="489" class="t" textLength="167.69" lengthAdjust="spacingAndGlyphs">Density = 998.2 kg/m³</text>
<text x="438.82" y="510.35" class="t" textLength="312.19" lengthAdjust="spacingAndGlyphs">Eta pump+motor+freq.converter = 51.8 %</text>
</g>
<g id="bottom-chart">
<path d="M51.3 615.2L51.3 615.2L57.4 614.8L63.51 614.37L69.61 613.89L75.72 613.39L81.82 612.84L87.92 612.27L94.03 611.67L100.13 611.05L106.23 610.39L112.34 609.72L118.44 609.02L124.55 608.3L130.65 607.56L136.75 606.81L142.86 606.04L148.96 605.26L155.06 604.46L161.17 603.66L167.27 602.85L170 602.49L170 687L51.3 687Z" fill="#eef6fe"/>
<path d="M68 687L69.22 686.64L70.43 686.23L71.65 685.8L72.87 685.33L74.08 684.83L75.3 684.31L76.51 683.77L77.73 683.18L78.95 682.56L80.16 681.89L81.38 681.19L82.6 680.44L83.81 679.66L85.03 678.83L86.24 677.92L87.46 676.94L88.68 675.9L89.89 674.81L91.11 673.7L92.33 672.54L93.54 671.32L94.76 670.05L95.98 668.74L97.19 667.38L98.41 665.99L99.62 664.55L100.84 663.07L102.06 661.54L103.27 659.96L104.49 658.34L105.71 656.65L106.92 654.91L108.14 653.11L109.36 651.28L110.57 649.44L111.79 647.62L113 645.77L114.22 643.8L115.44 641.62L116.65 639.16L117.87 636.4L119.09 633.4L120.3 630.17L121.52 626.48L122.73 622.52L123.95 618.65L125.17 615L126.38 611.43L127.6 607.93L130.65 607.56L136.75 606.81L142.86 606.04L148.96 605.26L155.06 604.46L161.17 603.66L167.27 602.85L173.38 602.04L179.48 601.22L185.58 600.39L191.69 599.57L197.79 598.75L203.89 597.93L210 597.11L216.1 596.29L222.21 595.47L228.31 594.65L234.41 593.82L240.52 593L246.62 592.17L252.73 591.35L258.83 590.51L264.93 589.68L271.04 588.85L277.14 588.01L283.24 587.17L289.35 586.32L295.45 585.48L301.56 584.63L307.66 583.78L313.76 582.93L319.87 582.08L325.97 581.23L332.07 580.37L338.18 579.51L344.28 578.65L350.39 577.79L356.49 576.93L362.59 576.07L368.7 575.2L374.8 574.33L380.91 573.47L387.01 572.6L393.11 571.73L399.22 570.86L405.32 569.99L411.42 569.12L417.53 568.25L423.63 567.38L429.74 566.51L435.84 565.64L441.94 564.76L448.05 563.89L454.15 563.02L460.25 562.15L466.36 561.29L472.46 560.42L478.57 559.56L484.67 558.7L490.77 557.84L496.88 556.99L502.98 556.14L509.08 555.3L515.19 554.46L521.29 553.64L527.4 552.81L533.5 552L545.41 552.01L557.31 552.02L569.22 552.03L581.13 552.04L593.03 552.05L604.94 552.07L616.85 552.08L628.76 552.1L640.66 552.11L652.57 552.13L664.48 552.15L676.38 552.16L688.29 552.18L700.2 552.2L712.1 552.22L724.01 552.24L735.92 552.26L747.82 552.28L759.73 552.31L771.64 552.33L783.54 552.36L795.45 552.39L807.36 552.41L819.27 552.44L831.17 552.47L843.08 552.5L854.99 552.54L866.89 552.57L878.8 552.6L878.8 552.6L878.8 566.6L754.7 612.3L630.5 646.4L506 668.6L448 676.6L410 679.8L368 682.5L335 683.8L269 685L68 687Z" fill="#d0dce8"/>
<path d="M130.5 521V687M210.5 521V687M289.5 521V687M368.5 521V687M448.5 521V687M527.5 521V687M606.5 521V687M686.5 521V687M765.5 521V687M844.5 521V687M924.5 521V687M52 632.5H959M52 576.5H959" stroke="#c8c8c8" stroke-opacity="0.75" stroke-width="1" fill="none"/>
<path d="M51 687.5H960" stroke="#707070" stroke-width="1" fill="none"/>
<path d="M51.3 615.2L57.4 614.8L63.51 614.37L69.61 613.89L75.72 613.39L81.82 612.84L87.92 612.27L94.03 611.67L100.13 611.05L106.23 610.39L112.34 609.72L118.44 609.02L121 608.72" fill="none" stroke="#0d4a88" stroke-width="1" stroke-linecap="round" stroke-linejoin="round"/>
<path d="M121.42 609.67L124.66 609.29L130.77 608.55L136.88 607.8L142.98 607.03L149.09 606.25L155.19 605.46L161.3 604.66L167.41 603.85L173.51 603.04L179.61 602.22L185.72 601.4L191.82 600.58L197.93 599.76L204.03 598.95L210.14 598.13L216.24 597.31L222.34 596.49L228.45 595.67L234.55 594.85L240.66 594.03L246.76 593.21L252.87 592.38L258.97 591.55L265.08 590.72L271.18 589.89L277.28 589.05L283.39 588.22L289.49 587.38L295.6 586.53L301.7 585.69L307.81 584.84L313.91 584L320.02 583.15L326.12 582.29L332.22 581.44L338.33 580.59L344.43 579.73L350.54 578.87L356.64 578.01L362.75 577.15L368.85 576.29L374.96 575.42L381.06 574.56L387.16 573.69L393.27 572.83L399.37 571.96L405.48 571.09L411.58 570.23L417.69 569.36L423.79 568.49L429.89 567.62L436 566.75L442.1 565.88L448.21 565.01L454.31 564.15L460.41 563.28L466.52 562.41L472.62 561.55L478.73 560.69L484.83 559.83L490.93 558.98L497.04 558.13L503.14 557.29L509.24 556.45L515.35 555.62L521.45 554.79L527.55 553.97L533.55 553.17L545.41 553.18L557.31 553.2L569.22 553.22L581.13 553.23L593.03 553.25L604.94 553.27L616.85 553.28L628.75 553.3L640.66 553.31L652.57 553.33L664.47 553.35L676.38 553.36L688.29 553.38L700.19 553.4L712.1 553.42L724.01 553.44L735.91 553.46L747.82 553.48L759.73 553.51L771.64 553.53L783.54 553.56L795.45 553.59L807.36 553.61L819.26 553.64L831.17 553.67L843.08 553.7L854.98 553.74L866.89 553.77L878.8 553.8L878.8 551.4L866.9 551.37L854.99 551.34L843.08 551.3L831.18 551.27L819.27 551.24L807.36 551.21L795.45 551.19L783.55 551.16L771.64 551.13L759.73 551.11L747.83 551.08L735.92 551.06L724.01 551.04L712.11 551.02L700.2 551L688.29 550.98L676.38 550.96L664.48 550.95L652.57 550.93L640.66 550.91L628.76 550.9L616.85 550.88L604.94 550.87L593.04 550.86L581.13 550.85L569.22 550.84L557.31 550.84L545.41 550.83L533.45 550.83L527.24 551.66L521.14 552.48L515.03 553.31L508.93 554.15L502.82 555L496.72 555.85L490.61 556.7L484.51 557.56L478.41 558.42L472.3 559.29L466.2 560.16L460.09 561.03L453.99 561.9L447.89 562.77L441.78 563.65L435.68 564.52L429.58 565.39L423.47 566.27L417.37 567.14L411.27 568.02L405.16 568.89L399.06 569.76L392.96 570.63L386.85 571.51L380.75 572.38L374.65 573.25L368.54 574.11L362.44 574.98L356.34 575.85L350.23 576.71L344.13 577.58L338.03 578.44L331.92 579.3L325.82 580.16L319.72 581.02L313.62 581.87L307.51 582.72L301.41 583.58L295.31 584.43L289.2 585.27L283.1 586.12L277 586.96L270.89 587.8L264.79 588.64L258.69 589.48L252.58 590.31L246.48 591.14L240.38 591.97L234.28 592.8L228.17 593.62L222.07 594.45L215.97 595.27L209.86 596.09L203.76 596.92L197.66 597.74L191.55 598.56L185.45 599.39L179.34 600.21L173.24 601.03L167.14 601.85L161.04 602.66L154.93 603.47L148.83 604.26L142.73 605.05L136.63 605.81L130.53 606.57L124.43 607.3L121.18 607.69Z" fill="#0d4a88"/><circle cx="121.3" cy="608.68" r="1" fill="#0d4a88"/><circle cx="878.8" cy="552.6" r="1.2" fill="#0d4a88"/>
<path d="M51.3 622.1L57.4 621.76L63.51 621.38L69.61 620.95L75.72 620.49L81.82 620L87.92 619.47L94.03 618.91L100.13 618.32L106.23 617.71L112.34 617.07L118.44 616.41L124.55 615.72L130.65 615.02L136.75 614.3L142.86 613.56L148.96 612.81L155.06 612.06L161.17 611.29L167.27 610.51L173.38 609.73L179.48 608.95L185.58 608.17L191.69 607.38L197.79 606.6L203.89 605.83L210 605.05L216.1 604.28L222.21 603.51L228.31 602.75L234.41 601.98L240.52 601.22L246.62 600.46L252.73 599.7L258.83 598.95L264.93 598.2L271.04 597.45L277.14 596.7L283.24 595.96L289.35 595.21L295.45 594.47L301.56 593.72L307.66 592.98L313.76 592.24L319.87 591.5L325.97 590.75L332.07 590.01L338.18 589.26L344.28 588.52L350.39 587.77L356.49 587.02L362.59 586.27L368.7 585.51L374.8 584.76L380.91 584L387.01 583.24L393.11 582.47L399.22 581.71L405.32 580.94L411.42 580.18L417.53 579.41L423.63 578.65L429.74 577.88L435.84 577.12L441.94 576.36L448.05 575.59L454.15 574.83L460.25 574.08L466.36 573.32L472.46 572.57L478.57 571.82L484.67 571.08L490.77 570.34L496.88 569.6L502.98 568.87L509.08 568.14L515.19 567.42L521.29 566.71L527.4 566L533.5 565.3L545.41 565.3L557.31 565.3L569.22 565.31L581.13 565.31L593.03 565.31L604.94 565.32L616.85 565.33L628.76 565.34L640.66 565.35L652.57 565.35L664.48 565.37L676.38 565.38L688.29 565.39L700.2 565.4L712.1 565.42L724.01 565.44L735.92 565.47L747.82 565.51L759.73 565.55L771.64 565.6L783.54 565.65L795.45 565.71L807.36 565.77L819.27 565.84L831.17 565.9L843.08 565.97L854.99 566.05L866.89 566.12L878.8 566.2" fill="none" stroke="#0d4a88" stroke-width="1" stroke-linecap="round" stroke-linejoin="round"/>
<path d="M51.3 637.7L56.51 637.29L61.71 636.88L66.92 636.47L72.13 636.06L77.33 635.64L82.54 635.22L87.74 634.79L92.95 634.36L98.16 633.93L103.36 633.5L108.57 633.06L113.78 632.62L115 632.51" fill="none" stroke="#0d4a88" stroke-width="1" stroke-linecap="round" stroke-linejoin="round"/>
<path d="M115.09 633.51L119.07 633.17L124.27 632.72L129.48 632.27L134.69 631.81L139.9 631.35L145.1 630.89L150.31 630.42L155.52 629.95L160.72 629.48L165.93 629L171.14 628.52L176.35 628.04L181.55 627.55L186.76 627.05L191.97 626.56L197.18 626.05L202.38 625.55L207.59 625.03L212.8 624.52L218 624L223.21 623.47L228.42 622.94L233.63 622.41L238.83 621.87L244.04 621.32L249.25 620.77L254.46 620.22L259.66 619.66L264.87 619.09L270.08 618.53L275.29 617.95L280.49 617.38L285.7 616.8L290.91 616.22L296.11 615.63L301.32 615.05L306.53 614.46L311.74 613.87L316.94 613.29L322.15 612.7L327.35 612.11L332.56 611.53L337.77 610.94L342.97 610.36L348.18 609.78L353.38 609.2L358.59 608.63L363.8 608.06L369 607.49L374.21 606.93L379.41 606.38L384.62 605.82L389.83 605.27L395.03 604.72L400.24 604.16L405.45 603.61L410.65 603.05L415.86 602.5L421.07 601.93L426.28 601.37L431.48 600.8L436.69 600.22L441.9 599.64L447.11 599.04L452.32 598.44L457.52 597.83L462.73 597.22L467.94 596.6L473.14 595.98L478.35 595.37L483.56 594.76L488.76 594.15L493.97 593.55L499.17 592.96L504.37 592.39L509.58 591.82L514.78 591.28L519.98 590.75L525.19 590.24L530.39 589.74L535.59 589.26L540.8 588.79L546 588.34L551.2 587.9L556.41 587.46L561.61 587.04L566.82 586.63L572.02 586.23L577.22 585.83L582.43 585.45L587.64 585.06L592.84 584.69L598.05 584.32L603.25 583.95L608.46 583.58L613.66 583.21L618.87 582.85L624.07 582.49L629.28 582.13L634.49 581.78L639.69 581.43L644.9 581.09L650.1 580.74L655.31 580.41L660.51 580.08L665.72 579.75L670.92 579.43L676.13 579.12L681.33 578.81L686.54 578.51L691.74 578.21L696.95 577.92L702.15 577.63L707.36 577.35L712.56 577.07L717.77 576.78L722.98 576.5L728.19 576.21L733.39 575.91L738.6 575.61L743.81 575.3L749.02 574.98L754.22 574.66L759.43 574.33L764.64 574.01L769.84 573.69L775.05 573.38L780.25 573.07L785.46 572.76L790.66 572.47L795.87 572.17L801.07 571.88L806.28 571.6L811.48 571.31L816.69 571.03L821.89 570.75L827.1 570.48L832.31 570.21L837.51 569.94L842.72 569.67L847.92 569.4L853.13 569.13L858.34 568.87L863.54 568.6L868.75 568.33L873.96 568.07L878.86 567.81L878.74 565.42L873.83 565.67L868.63 565.94L863.42 566.2L858.21 566.47L853.01 566.74L847.8 567L842.59 567.27L837.39 567.54L832.18 567.81L826.97 568.08L821.77 568.36L816.56 568.64L811.35 568.92L806.15 569.2L800.94 569.49L795.73 569.78L790.52 570.07L785.32 570.37L780.11 570.67L774.9 570.98L769.7 571.29L764.49 571.61L759.28 571.94L754.07 572.26L748.87 572.58L743.66 572.9L738.46 573.21L733.26 573.52L728.05 573.81L722.84 574.1L717.64 574.39L712.43 574.67L707.23 574.95L702.02 575.24L696.81 575.52L691.61 575.81L686.4 576.11L681.19 576.41L675.98 576.72L670.78 577.03L665.57 577.36L660.36 577.68L655.15 578.01L649.95 578.35L644.74 578.69L639.53 579.04L634.32 579.39L629.12 579.74L623.91 580.1L618.7 580.46L613.5 580.82L608.29 581.18L603.08 581.55L597.87 581.92L592.67 582.3L587.46 582.68L582.25 583.07L577.05 583.46L571.84 583.86L566.63 584.27L561.42 584.69L556.21 585.11L551 585.55L545.8 586L540.59 586.45L535.38 586.93L530.17 587.41L524.96 587.92L519.75 588.43L514.54 588.97L509.33 589.52L504.12 590.08L498.91 590.67L493.7 591.26L488.5 591.86L483.29 592.47L478.08 593.09L472.87 593.71L467.67 594.34L462.46 594.96L457.26 595.57L452.05 596.19L446.85 596.79L441.64 597.39L436.44 597.98L431.24 598.56L426.03 599.14L420.83 599.71L415.62 600.27L410.41 600.84L405.21 601.4L400 601.95L394.8 602.51L389.59 603.07L384.39 603.62L379.18 604.18L373.97 604.75L368.77 605.31L363.56 605.88L358.35 606.46L353.14 607.04L347.94 607.62L342.73 608.2L337.52 608.79L332.32 609.38L327.11 609.97L321.91 610.56L316.7 611.15L311.49 611.74L306.29 612.34L301.08 612.93L295.88 613.52L290.67 614.1L285.47 614.69L280.26 615.27L275.05 615.85L269.85 616.43L264.64 617L259.44 617.57L254.23 618.14L249.03 618.7L243.82 619.25L238.62 619.8L233.41 620.34L228.21 620.88L223 621.42L217.8 621.95L212.59 622.47L207.39 622.99L202.18 623.51L196.98 624.02L191.77 624.53L186.57 625.03L181.36 625.53L176.16 626.02L170.95 626.51L165.75 627L160.54 627.48L155.34 627.96L150.13 628.43L144.92 628.9L139.72 629.36L134.51 629.82L129.31 630.28L124.1 630.73L118.9 631.18L114.91 631.52Z" fill="#0d4a88"/><circle cx="115" cy="632.51" r="1" fill="#0d4a88"/><circle cx="878.8" cy="566.62" r="1.2" fill="#0d4a88"/>
<path d="M51.3 632.4L56.51 631.96L61.71 631.51L66.92 631.05L72.13 630.59L77.33 630.13L82.54 629.66L87.74 629.18L92.95 628.7L98.16 628.21L103.36 627.72L108.57 627.22L113.78 626.72L115 626.6" fill="none" stroke="#0d4a88" stroke-width="1" stroke-linecap="round" stroke-linejoin="round"/>
<path d="M115.65 628.15L119.14 627.81L124.35 627.3L129.55 626.78L134.76 626.26L139.97 625.74L145.18 625.21L150.38 624.67L155.59 624.14L160.8 623.6L166.01 623.05L171.21 622.5L176.42 621.95L181.63 621.4L186.84 620.84L192.05 620.27L197.25 619.7L202.46 619.13L207.67 618.56L212.88 617.98L218.08 617.4L223.29 616.81L228.5 616.22L233.71 615.63L238.91 615.03L244.12 614.44L249.33 613.83L254.54 613.23L259.74 612.62L264.95 612.01L270.16 611.4L275.37 610.78L280.57 610.17L285.78 609.55L290.99 608.93L296.19 608.3L301.4 607.68L306.61 607.06L311.81 606.43L317.02 605.81L322.23 605.18L327.43 604.56L332.64 603.93L337.85 603.31L343.05 602.68L348.26 602.06L353.47 601.44L358.67 600.82L363.88 600.2L369.08 599.58L374.29 598.97L379.5 598.35L384.7 597.74L389.91 597.13L395.11 596.53L400.32 595.93L405.52 595.33L410.73 594.73L415.94 594.13L421.14 593.54L426.35 592.95L431.55 592.37L436.76 591.79L441.96 591.21L447.17 590.63L452.37 590.06L457.58 589.5L462.78 588.93L467.99 588.37L473.2 587.82L478.4 587.26L483.61 586.71L488.81 586.17L494.02 585.62L499.22 585.08L504.43 584.55L509.63 584.01L514.84 583.48L520.04 582.95L525.25 582.43L530.45 581.91L535.66 581.39L540.87 580.88L546.07 580.37L551.28 579.87L556.48 579.37L561.69 578.87L566.89 578.38L572.09 577.9L577.3 577.42L582.5 576.94L587.71 576.47L592.91 576.01L598.12 575.55L603.32 575.1L608.53 574.65L613.73 574.21L618.93 573.77L624.14 573.34L629.34 572.91L634.55 572.49L639.76 572.07L644.96 571.65L650.17 571.24L655.37 570.82L660.58 570.4L665.79 569.99L670.99 569.57L676.2 569.15L681.41 568.73L686.61 568.3L691.82 567.88L697.03 567.45L702.23 567.02L707.44 566.59L712.64 566.17L717.85 565.76L723.05 565.35L728.25 564.96L733.45 564.58L738.65 564.22L743.85 563.88L749.05 563.55L754.26 563.23L759.46 562.92L764.67 562.61L769.88 562.29L775.09 561.96L780.3 561.63L785.5 561.29L790.71 560.95L795.92 560.6L801.13 560.25L806.33 559.9L811.54 559.55L816.75 559.2L821.95 558.85L827.16 558.5L832.36 558.15L837.57 557.81L842.77 557.48L847.97 557.15L853.18 556.84L858.38 556.53L863.58 556.23L868.79 555.94L873.99 555.66L878.89 555.41L878.71 551.82L873.8 552.07L868.59 552.34L863.38 552.63L858.17 552.93L852.96 553.24L847.75 553.56L842.54 553.89L837.33 554.22L832.13 554.56L826.92 554.91L821.71 555.25L816.5 555.6L811.3 555.96L806.09 556.31L800.88 556.66L795.68 557.01L790.47 557.36L785.27 557.7L780.06 558.04L774.86 558.37L769.66 558.69L764.45 559.01L759.25 559.32L754.04 559.64L748.83 559.96L743.62 560.29L738.41 560.63L733.2 560.99L727.98 561.37L722.77 561.76L717.56 562.17L712.35 562.58L707.15 563L701.94 563.43L696.73 563.86L691.53 564.29L686.32 564.72L681.12 565.14L675.91 565.56L670.7 565.98L665.5 566.4L660.29 566.82L655.09 567.23L649.88 567.65L644.67 568.06L639.47 568.48L634.26 568.9L629.05 569.33L623.84 569.75L618.64 570.19L613.43 570.62L608.22 571.06L603.01 571.51L597.8 571.97L592.59 572.43L587.39 572.9L582.18 573.37L576.97 573.85L571.76 574.34L566.56 574.83L561.35 575.32L556.14 575.82L550.93 576.33L545.72 576.84L540.52 577.35L535.31 577.87L530.1 578.39L524.9 578.91L519.69 579.44L514.48 579.98L509.27 580.51L504.07 581.05L498.86 581.59L493.65 582.14L488.45 582.68L483.24 583.23L478.03 583.79L472.82 584.35L467.62 584.91L462.41 585.47L457.2 586.04L451.99 586.62L446.79 587.19L441.58 587.77L436.37 588.35L431.17 588.94L425.96 589.53L420.75 590.12L415.55 590.72L410.34 591.32L405.13 591.92L399.92 592.53L394.72 593.13L389.51 593.74L384.3 594.36L379.1 594.97L373.89 595.59L368.68 596.21L363.48 596.83L358.27 597.45L353.06 598.08L347.86 598.71L342.65 599.33L337.44 599.96L332.24 600.59L327.03 601.22L321.83 601.85L316.62 602.48L311.41 603.11L306.21 603.74L301 604.37L295.8 605L290.59 605.62L285.39 606.25L280.18 606.87L274.98 607.49L269.77 608.11L264.56 608.73L259.36 609.35L254.15 609.96L248.95 610.57L243.74 611.17L238.54 611.78L233.33 612.38L228.13 612.97L222.92 613.57L217.72 614.16L212.51 614.74L207.31 615.33L202.1 615.91L196.9 616.48L191.69 617.05L186.49 617.62L181.28 618.19L176.08 618.75L170.87 619.3L165.67 619.86L160.47 620.41L155.26 620.95L150.06 621.49L144.85 622.02L139.65 622.55L134.44 623.08L129.24 623.6L124.03 624.11L118.83 624.62L115.35 624.96Z" fill="#0d4a88"/><circle cx="115.5" cy="626.55" r="1.6" fill="#0d4a88"/><circle cx="878.8" cy="553.62" r="1.8" fill="#0d4a88"/>
<path d="M51.3 685.7L56.88 685.7L62.46 685.7L68 685.7" fill="none" stroke="#0d4a88" stroke-width="1" stroke-linecap="round" stroke-linejoin="round"/>
<path d="M67.8 685.7L68.05 685.7L73.63 685.7L79.21 685.7L84.79 685.7L90.37 685.69L95.96 685.69L101.54 685.68L107.12 685.68L112.7 685.67L118.28 685.66L123.87 685.65L129.45 685.64L135.03 685.63L140.61 685.62L146.19 685.61L151.78 685.6L157.36 685.57L162.94 685.54L168.52 685.5L174.11 685.44L179.69 685.38L185.27 685.32L190.85 685.24L196.43 685.16L202.02 685.08L207.6 685L213.18 684.91L218.76 684.82L224.34 684.73L229.93 684.62L235.51 684.5L241.09 684.37L246.67 684.23L252.25 684.08L257.84 683.93L263.42 683.77L269 683.6" fill="none" stroke="#0d4a88" stroke-width="2.2" stroke-linecap="round" stroke-linejoin="round"/>
<path d="M67.8 686.6L150 686.4L220 685.4L269 684.2" fill="none" stroke="#000" stroke-width="2.4" stroke-linecap="round" stroke-linejoin="round"/>
<path d="M51.3 670.3L54.97 670.5L58.64 670.7L62.31 670.9L65.97 671.09L69.64 671.28L73.31 671.47L76.98 671.65L80.65 671.83L84.32 672.01L87.98 672.18L91.65 672.35L95.32 672.52L98.99 672.68L102.66 672.84L106.33 673L109.99 673.16L113.66 673.31L117.33 673.46L121 673.6" fill="none" stroke="#000" stroke-width="1" stroke-linecap="round" stroke-linejoin="round"/>
<path d="M51.3 673.6L56.51 673.69L61.71 673.79L66.92 673.89L72.13 673.99L77.33 674.1L82.54 674.21L87.74 674.32L92.95 674.43L98.16 674.55L103.36 674.67L108.57 674.78L113.78 674.9L115 674.92" fill="none" stroke="#000" stroke-width="1" stroke-linecap="round" stroke-linejoin="round"/>
<path d="M115.5 674.93L118.98 675.01L124.19 675.12L129.39 675.23L134.6 675.33L139.81 675.43L145.01 675.53L150.22 675.62L155.43 675.7L160.63 675.78L165.84 675.85L171.04 675.91L176.25 675.97L181.46 676.01L186.66 676.05L191.87 676.07L197.08 676.09L202.28 676.09L207.49 676.09L212.69 676.07L217.9 676.04L223.11 675.99L228.31 675.94L233.52 675.87L238.73 675.78L243.93 675.68L249.14 675.57L254.35 675.44L259.55 675.3L264.76 675.14L269.96 674.97L275.17 674.79L280.38 674.59L285.58 674.38L290.79 674.16L296 673.93L301.2 673.69L306.41 673.45L311.61 673.2L316.82 672.94L322.03 672.68L327.23 672.41L332.44 672.14L337.65 671.87L342.85 671.6L348.06 671.33L353.26 671.06L358.47 670.79L363.68 670.52L368.88 670.26L374.09 670L379.3 669.74L384.5 669.48L389.71 669.23L394.92 668.98L400.12 668.72L405.33 668.47L410.53 668.21L415.74 667.95L420.95 667.69L426.15 667.41L431.36 667.14L436.57 666.85L441.77 666.56L446.98 666.26L452.18 665.95L457.39 665.63L462.6 665.3L467.8 664.96L473.01 664.61L478.22 664.26L483.42 663.9L488.63 663.53L493.83 663.15L499.04 662.77L504.25 662.38L509.45 661.99L514.66 661.6L519.87 661.2L525.07 660.79L530.28 660.39L535.48 659.98L540.69 659.56L545.9 659.14L551.1 658.72L556.31 658.3L561.52 657.87L566.72 657.43L571.93 657L577.14 656.56L582.34 656.11L587.55 655.67L592.75 655.22L597.96 654.77L603.17 654.31L608.37 653.85L613.58 653.39L618.79 652.93L623.99 652.46L629.2 651.99L634.4 651.52L639.61 651.05L644.82 650.58L650.02 650.11L655.23 649.64L660.44 649.16L665.64 648.69L670.85 648.22L676.05 647.75L681.26 647.28L686.47 646.81L691.67 646.35L696.88 645.88L702.09 645.41L707.29 644.94L712.5 644.46L717.71 643.97L722.91 643.48L728.12 642.97L733.32 642.44L738.53 641.9L743.74 641.34L748.94 640.76L754.15 640.15L759.36 639.52L764.56 638.85L769.77 638.16L774.97 637.44L780.18 636.68L785.39 635.89L790.59 635.08L795.8 634.24L801.01 633.38L806.21 632.49L811.42 631.58L816.62 630.65L821.83 629.71L827.04 628.74L832.24 627.76L837.45 626.77L842.66 625.76L847.86 624.74L853.07 623.72L858.27 622.68L863.48 621.64L868.69 620.6L873.89 619.55L878.8 618.56" fill="none" stroke="#000" stroke-width="4.0" stroke-linecap="round" stroke-linejoin="round"/>
<path d="M121.5 673.61L126.29 673.77L132.54 673.94L138.79 674.09L145.04 674.22L151.29 674.32L157.54 674.4L163.78 674.47L170.03 674.52L176.28 674.55L182.53 674.58L188.78 674.59L195.03 674.6L201.28 674.6L207.53 674.6L213.78 674.59L220.03 674.57L226.28 674.54L232.53 674.5L238.77 674.44L245.02 674.37L251.27 674.28L257.52 674.17L263.77 674.04L270.02 673.88L276.27 673.71L282.52 673.52L288.77 673.31L295.02 673.08L301.27 672.85L307.52 672.59L313.76 672.33L320.01 672.06L326.26 671.77L332.51 671.48L338.76 671.18L345.01 670.88L351.26 670.57L357.51 670.26L363.76 669.95L370.01 669.64L376.26 669.33L382.51 669.02L388.75 668.72L395 668.42L401.25 668.13L407.5 667.84L413.75 667.57L420 667.3" fill="none" stroke="#000" stroke-width="2.0" stroke-linecap="round" stroke-linejoin="round"/>
<circle cx="740.5" cy="562.3" r="6" fill="#f00"/>
<circle cx="740.5" cy="574.3" r="6" fill="#f00"/>
<circle cx="740.5" cy="641.7" r="6" fill="#f00"/>
<path d="M51.45 520V688.2" stroke="#000" stroke-width="1.6" fill="none"/>
<path d="M50.3 520.5H966" stroke="#000" stroke-width="1.1" fill="none"/>
<path d="M959 520V688.5" stroke="#000" stroke-width="2" fill="none"/>
<path d="M44 687.6H51M44 631.85H51M44 576.1H51" stroke="#000" stroke-width="1.5" fill="none"/>
<path d="M959 687.8H966M959 632.05H966M959 576.3H966" stroke="#000" stroke-width="1.9" fill="none"/>
<text x="19.96" y="535.1" class="t" textLength="11.86" lengthAdjust="spacingAndGlyphs">P</text>
<text x="7.63" y="555.6" class="t" textLength="35.22" lengthAdjust="spacingAndGlyphs">[kW]</text>
<text x="29.72" y="692.2" class="t" textLength="8.55" lengthAdjust="spacingAndGlyphs">0</text>
<text x="29.61" y="636.45" class="t" textLength="8.54" lengthAdjust="spacingAndGlyphs">1</text>
<text x="29.49" y="580.7" class="t" textLength="9.02" lengthAdjust="spacingAndGlyphs">2</text>
<text x="967.21" y="535.1" class="t" textLength="47.69" lengthAdjust="spacingAndGlyphs">NPSH</text>
<text x="978.34" y="555.4" class="t" textLength="24.34" lengthAdjust="spacingAndGlyphs">[m]</text>
<text x="971.12" y="692" class="t" textLength="8.67" lengthAdjust="spacingAndGlyphs">0</text>
<text x="971.06" y="636.25" class="t" textLength="8.78" lengthAdjust="spacingAndGlyphs">5</text>
<text x="972.17" y="580.5" class="t" textLength="17.09" lengthAdjust="spacingAndGlyphs">10</text>
<text x="750.8" y="542.2" class="t" textLength="197.14" lengthAdjust="spacingAndGlyphs" style="fill:#2a5b96">P1 (motor+freq.converter)</text>
<text x="865.33" y="581.1" class="t" textLength="20.64" lengthAdjust="spacingAndGlyphs" style="fill:#2a5b96">P2</text>
<text x="53.71" y="716.3" class="t" textLength="277.94" lengthAdjust="spacingAndGlyphs">P1 (motor+freq.converter) = 2.25 kW</text>
<text x="53.72" y="737.8" class="t" textLength="111.72" lengthAdjust="spacingAndGlyphs">P2 = 2.038 kW</text>
<text x="53.72" y="759.3" class="t" textLength="118.09" lengthAdjust="spacingAndGlyphs">NPSH = 4.12 m</text>
</g>
</svg>
</body>
</html>
